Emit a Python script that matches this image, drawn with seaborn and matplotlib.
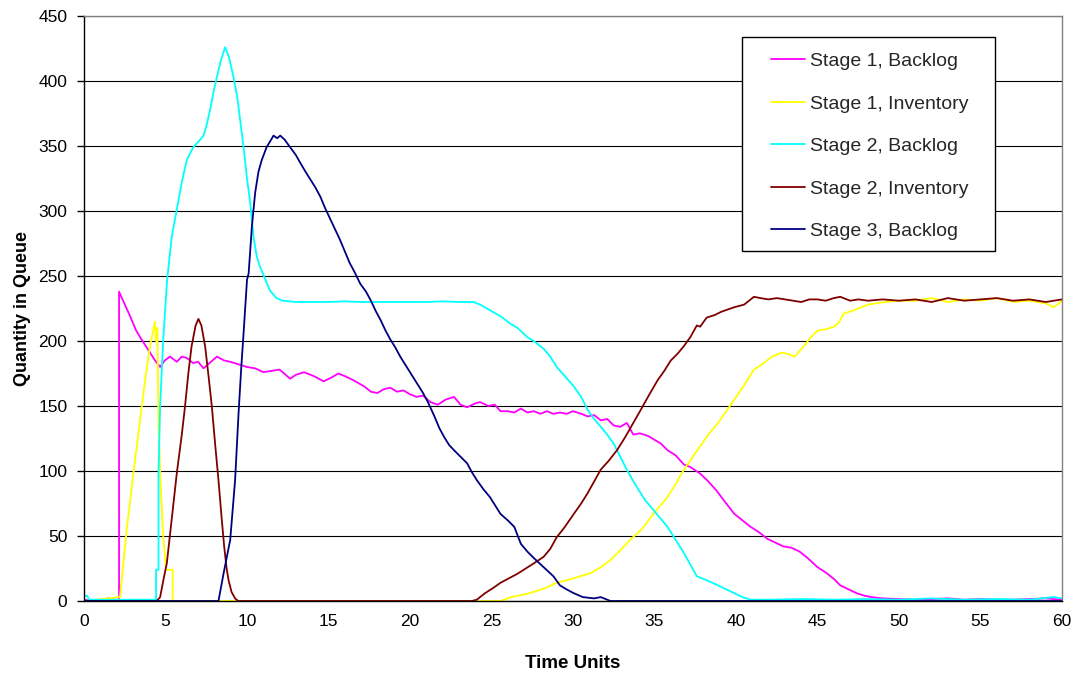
import matplotlib
matplotlib.use("Agg")
import matplotlib.pyplot as plt
from matplotlib.patches import Rectangle
import seaborn as sns

# ---- simulation output: quantity in each queue over time ----
stage1_backlog_t = [0, 0.5, 1.0, 1.5, 1.8, 2.15, 2.15, 2.4, 2.83, 3.2, 3.54, 3.95, 4.36, 4.67,
                    4.95, 5.28, 5.69, 6.0, 6.3, 6.7, 7.0, 7.33, 7.7, 8.15, 8.6, 8.97, 9.5, 10.0,
                    10.5, 11.0, 11.5, 12.0, 12.65, 13.0, 13.5, 14.1, 14.7, 15.2, 15.6, 16.0, 16.5,
                    17.2, 17.6, 18.0, 18.4, 18.8, 19.2, 19.6, 20.0, 20.4, 20.8, 21.25, 21.7, 22.2,
                    22.7, 23.1, 23.5, 24.0, 24.3, 24.8, 25.2, 25.55, 26.0, 26.4, 26.8, 27.2, 27.6,
                    28.0, 28.4, 28.8, 29.2, 29.6, 30.0, 30.5, 30.9, 31.3, 31.7, 32.1, 32.5, 32.9,
                    33.3, 33.7, 34.1, 34.6, 35.0, 35.4, 35.8, 36.3, 36.8, 37.2, 37.8, 38.3, 38.8,
                    39.4, 39.9, 40.4, 40.9, 41.4, 41.9, 42.4, 42.9, 43.4, 43.9, 44.4, 45.0, 45.5,
                    46.0, 46.4, 46.9, 47.4, 47.9, 48.3, 49, 50, 51, 52, 53, 54, 55, 56, 57, 58, 59, 60]
stage1_backlog_q = [1, 0.5, 1, 2, 1, 1, 238, 231, 219, 208, 201, 193, 185, 180,
                    185, 188, 184, 188, 187, 183, 184, 179, 183, 188, 185, 184, 182, 180,
                    179, 176, 177, 178, 171, 174, 176, 173, 169, 172, 175, 173, 170,
                    165, 161, 160, 163, 164, 161, 162, 159, 157, 158, 153, 151, 155,
                    157, 151, 149, 152, 153, 150, 151, 146, 146, 145, 148, 145, 146,
                    144, 146, 144, 145, 144, 146, 144, 142, 143, 139, 140, 135, 134,
                    137, 128, 129, 127, 124, 121, 116, 112, 105, 103, 98, 92, 85,
                    75, 67, 62, 57, 53, 48, 45, 42, 41, 38, 33, 26, 22,
                    17, 12, 9, 6, 4, 3, 2, 1.5, 1, 1.5, 2, 1, 1.5, 1, 1, 1.5, 2, 1]

stage1_inventory_t = [0, 2.21, 2.62, 3.03, 3.44, 3.75, 4.05, 4.36, 4.42, 4.5, 4.57, 4.7, 4.87,
                      5.05, 5.44, 5.44, 25.55, 26.2, 27.0, 27.6, 28.3, 29.0, 30.05, 31.1, 31.7,
                      32.3, 32.9, 33.5, 34.2, 35.0, 35.4, 35.8, 36.3, 36.8, 37.3, 37.8, 38.3,
                      38.9, 39.4, 39.9, 40.5, 41.1, 41.6, 42.2, 42.8, 43.2, 43.6, 44.1, 44.6,
                      45.0, 45.5, 46.0, 46.3, 46.6, 47.3, 48.1, 49.1, 50, 51, 52, 53, 54, 55,
                      56, 57, 58, 59, 59.5, 60]
stage1_inventory_q = [0, 3, 55, 98, 139, 170, 196, 215, 200, 210, 134, 90, 47,
                      24, 24, 0, 0, 3, 5, 7, 10, 14, 17.5, 21.5, 26,
                      31.5, 39, 47, 55, 68, 74, 80, 90, 101, 110, 119, 128,
                      137, 146, 155, 166, 178, 182, 188, 191, 190, 188, 195, 203,
                      208, 209, 211, 214, 221, 224, 228, 230, 231, 231, 233, 230, 232, 231,
                      233, 230, 231, 229, 226, 231]

stage2_backlog_t = [0, 0.2, 0.3, 1, 2, 3, 4, 4.42, 4.42, 4.57, 4.57, 4.67, 4.87, 5.1, 5.38,
                    5.69, 6.0, 6.3, 6.7, 7.0, 7.33, 7.5, 7.74, 7.95, 8.15, 8.4, 8.66, 8.9, 9.17,
                    9.4, 9.58, 9.8, 9.99, 10.2, 10.4, 10.6, 10.8, 11.1, 11.4, 11.8, 12.2, 13, 14,
                    15, 16, 17, 18, 19, 20, 21, 22, 23, 23.9, 24.3, 25.0, 25.55, 26.2, 26.6,
                    27.2, 27.7, 28.2, 28.6, 29.0, 29.5, 30.05, 30.5, 30.9, 31.3, 31.7, 32.1,
                    32.5, 32.9, 33.3, 33.8, 34.4, 35.0, 35.4, 35.8, 36.3, 36.8, 37.2, 37.6,
                    38.2, 38.9, 39.4, 39.9, 40.4, 40.9, 42, 44, 46, 48, 50, 52, 54, 56, 58,
                    59.5, 60]
stage2_backlog_q = [4, 4, 1, 1, 1, 1, 1, 1, 24, 24, 98, 150, 203, 247, 280,
                    301, 322, 339, 349, 353, 358, 365, 378, 392, 403, 416, 426, 418, 403,
                    388, 370, 348, 326, 306, 280, 265, 257, 248, 239, 233, 231, 230, 230,
                    230, 230.5, 230, 230, 230, 230, 230, 230.5, 230, 230, 228, 223, 219, 213, 210,
                    203, 199, 194, 188, 180, 173, 165, 157, 147, 140, 134, 128,
                    121, 111, 101, 90, 78, 69, 63, 57, 47, 37, 28, 19,
                    16, 12, 9, 6, 3, 1, 1, 1.5, 1, 1.5, 1, 2, 1, 1.5, 1,
                    3, 2]

stage2_inventory_t = [0, 4.46, 4.67, 4.9, 5.08, 5.4, 5.69, 6.0, 6.2, 6.4, 6.6, 6.85, 7.02,
                      7.2, 7.43, 7.65, 7.84, 8.05, 8.25, 8.45, 8.6, 8.75, 8.87, 9.05, 9.27,
                      9.45, 23.8, 24.1, 24.6, 25.1, 25.55, 26.0, 26.6, 27.1, 27.6, 28.2, 28.6,
                      29.0, 29.5, 30.05, 30.5, 30.9, 31.3, 31.7, 32.2, 32.7, 33.2, 33.7, 34.2,
                      34.6, 35.2, 35.6, 36.0, 36.4, 36.8, 37.2, 37.6, 37.8, 38.2, 38.7, 39.1,
                      39.9, 40.5, 41.1, 41.5, 42, 42.5, 43, 43.5, 44, 44.5, 45, 45.5, 46.0,
                      46.4, 47, 47.5, 48.1, 49, 50, 51, 52, 53, 54, 55, 56, 57, 58, 59, 60]
stage2_inventory_q = [0, 0, 3, 18, 29, 65, 98, 128, 150, 175, 196, 212, 217,
                      212, 196, 172, 150, 120, 93, 63, 42, 25, 16, 7, 2,
                      0, 0, 1, 6, 10, 14, 17, 21, 25, 29, 34, 40,
                      49, 57, 67, 75, 83, 92, 101, 108, 116, 126, 137, 148,
                      157, 170, 177, 185, 190, 196, 203, 212, 211, 218, 220, 222.5,
                      226, 228, 234, 233, 232, 233, 232, 231, 230, 232, 232, 231, 233,
                      234, 231, 232, 231, 232, 231, 232, 230, 233, 231, 232, 233, 231, 232, 230, 232]

stage3_backlog_t = [0, 8.25, 8.56, 8.97, 9.27, 9.48, 9.65, 9.79, 10.0, 10.1, 10.3, 10.5, 10.7,
                    10.9, 11.2, 11.63, 11.85, 12.04, 12.3, 12.65, 13.0, 13.27, 13.6, 13.9, 14.2,
                    14.5, 14.8, 15.1, 15.4, 15.7, 16.0, 16.3, 16.6, 16.95, 17.3, 17.6, 17.9,
                    18.2, 18.5, 18.8, 19.1, 19.4, 19.8, 20.2, 20.5, 20.8, 21.1, 21.5, 21.8,
                    22.1, 22.4, 22.7, 23.1, 23.5, 23.8, 24.1, 24.5, 24.9, 25.2, 25.55, 26.0,
                    26.4, 26.8, 27.2, 27.6, 28.2, 28.8, 29.2, 29.6, 30.05, 30.6, 31.3, 31.7,
                    32.3, 60]
stage3_backlog_q = [0, 0, 21, 47, 93, 144, 180, 206, 247, 252, 288, 314, 330,
                    339, 349, 358, 356, 358, 355, 349, 343, 337, 330, 324, 318,
                    311, 302, 294, 286, 278, 269, 260, 253, 244, 238, 231, 223,
                    216, 208, 201, 195, 188, 180, 172, 166, 160, 153, 142, 133,
                    126, 120, 116, 111, 106, 99, 93, 86, 80, 74, 67, 62,
                    57, 44, 38, 33, 26, 19, 12, 9, 6, 3, 2, 3,
                    0, 0]

series_names = ["Stage 1, Backlog", "Stage 1, Inventory", "Stage 2, Backlog",
                "Stage 2, Inventory", "Stage 3, Backlog"]
series_colors = ["#FF00FF", "#FFFF00", "#00FFFF", "#800000", "#000080"]
x_ticks = list(range(0, 61, 5))
y_ticks = list(range(0, 451, 50))

sns.set_theme(style="white")
plt.rcParams["font.family"] = ["Liberation Sans", "DejaVu Sans"]

W, H = 1073, 673
fig = plt.figure(figsize=(W / 100, H / 100), dpi=100)
ax = fig.add_axes([84 / W, 1 - 601 / H, (1062 - 84) / W, (601 - 16) / H])

series_data = [
    (stage1_backlog_t, stage1_backlog_q),
    (stage1_inventory_t, stage1_inventory_q),
    (stage2_backlog_t, stage2_backlog_q),
    (stage2_inventory_t, stage2_inventory_q),
    (stage3_backlog_t, stage3_backlog_q),
]
for (t, q), name, color in zip(series_data, series_names, series_colors):
    sns.lineplot(x=t, y=q, ax=ax, color=color, label=name, linewidth=1.3,
                 estimator=None, sort=False)

ax.set_xlim(0, 60)
ax.set_ylim(0, 450)
ax.set_xticks(x_ticks)
ax.set_yticks(y_ticks)
ax.set_xticklabels([str(v) for v in x_ticks])
ax.set_yticklabels([str(v) for v in y_ticks])

ax.set_axisbelow(True)
ax.yaxis.grid(True, color="black", linewidth=0.8)
ax.xaxis.grid(False)

for side in ("left", "bottom"):
    ax.spines[side].set_color("black")
    ax.spines[side].set_linewidth(1.0)
for side in ("top", "right"):
    ax.spines[side].set_color("#808080")
    ax.spines[side].set_linewidth(1.0)

ax.tick_params(axis="y", left=True, direction="out", length=5, width=1, color="black",
               pad=7, labelsize=12.5, labelcolor="black")
ax.tick_params(axis="x", bottom=True, length=0, pad=9, labelsize=12.5, labelcolor="black")

ax.set_xlabel("Time Units", fontsize=13.5, fontweight="bold", color="black", labelpad=19)
ax.set_ylabel("Quantity in Queue", fontsize=13, fontweight="bold", color="black", labelpad=5)

# legend box
frame = Rectangle((742 / W, 1 - 251 / H), (995 - 742) / W, (251 - 37) / H,
                  transform=fig.transFigure, facecolor="white", edgecolor="black",
                  linewidth=1.0, zorder=5.5, clip_on=False)
ax.add_patch(frame)
leg = ax.legend(loc="upper left", bbox_to_anchor=(771 / W, 1 - 52.5 / H),
                bbox_transform=fig.transFigure, frameon=False, fontsize=14,
                handlelength=1.75, handletextpad=0.27, labelspacing=1.28,
                borderpad=0, borderaxespad=0)
leg.set_zorder(6)
for line in leg.get_lines():
    line.set_linewidth(1.3)

fig.savefig("out.png", dpi=100)
